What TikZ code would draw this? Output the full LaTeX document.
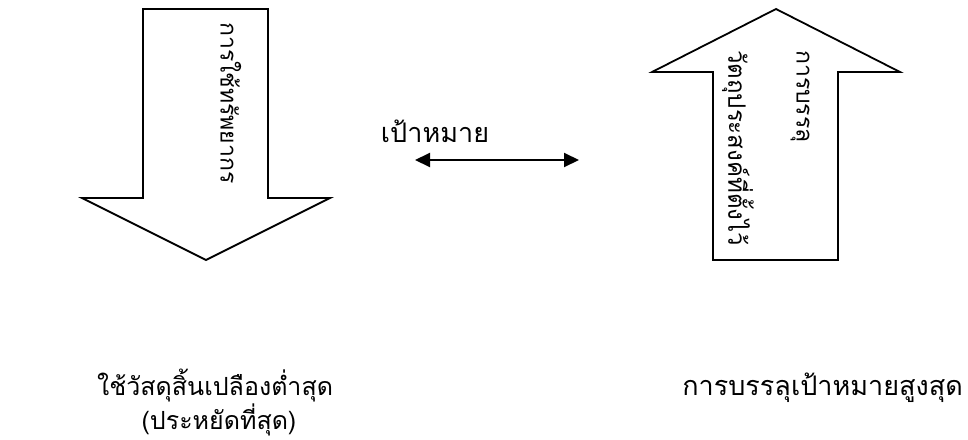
\documentclass[tikz,border=0pt]{standalone}
\usepackage{fontspec}
\newfontfamily\thaifont[Script=Thai]{Loma}
\usetikzlibrary{arrows.meta}
\begin{document}
\begin{tikzpicture}[x=1pt,y=-1pt,
  blockarrow/.style={draw=black,line width=1.8pt,line join=miter,fill=white},
  vlabel/.style={font=\thaifont\fontsize{23}{27}\selectfont,rotate=-90,anchor=west,inner sep=0pt},
  hlabel/.style={font=\thaifont\fontsize{27}{31}\selectfont,inner sep=0pt},
  hsmall/.style={font=\thaifont\fontsize{25}{29}\selectfont,inner sep=0pt},
  biarrow/.style={line width=2pt,{Triangle[length=15pt,width=14pt]}-{Triangle[length=15pt,width=14pt]}}]
\useasboundingbox[fill=white] (0,0) rectangle (968,439);
% down arrow (left)
\draw[blockarrow] (143,9) -- (268,9) -- (268,198) -- (330,198) -- (206,260) -- (82,198) -- (143,198) -- cycle;
% up arrow (right)
\draw[blockarrow] (776,9) -- (900,72) -- (838,72) -- (838,260) -- (713,260) -- (713,72) -- (652,72) -- cycle;
\node[vlabel] (res) at (231,22) {การใช้ทรัพยากร};
\node[vlabel] (achv1) at (800,50) {การบรรลุ};
\node[vlabel,font=\thaifont\fontsize{24}{28}\selectfont] (achv2) at (738,50) {วัตถุประสงค์ที่ตั้งไว้};
\coordinate (gL) at (415,160);
\coordinate (gR) at (579,160);
\draw[biarrow] (gL) -- (gR);
\node[hlabel,anchor=base] (goal) at (435,142) {เป้าหมาย};
\node[hsmall,anchor=base west] (minuse) at (97,395) {ใช้วัสดุสิ้นเปลืองต่ำสุด};
\node[hsmall,anchor=base] (econ) at (219,429) {(ประหยัดที่สุด)};
\node[hlabel,anchor=base east] (maxgoal) at (963,395) {การบรรลุเป้าหมายสูงสุด};
\end{tikzpicture}
\end{document}
